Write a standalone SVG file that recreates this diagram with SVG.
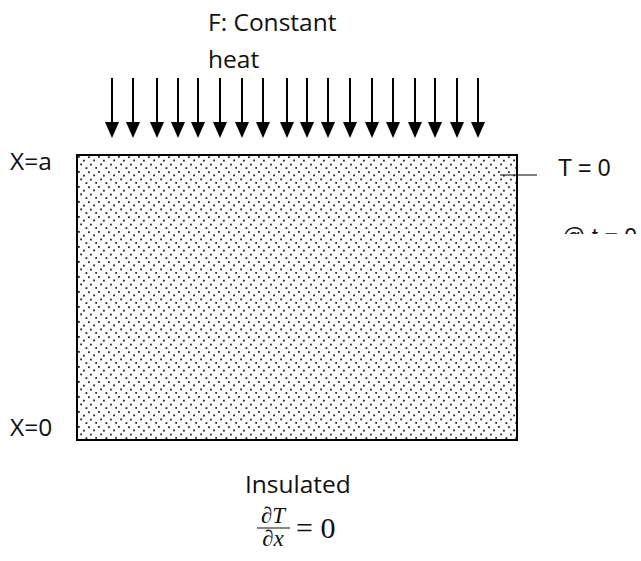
<svg xmlns="http://www.w3.org/2000/svg" width="641" height="561" viewBox="0 0 641 561">
  <style>
    .seg { font-family: "Open Sans", "Noto Sans", "Liberation Sans", sans-serif; font-size: 24.5px; fill: #111; }
    .ari { font-family: "Liberation Sans", Arial, sans-serif; font-size: 23px; fill: #111; }
    .math { font-family: "Liberation Serif", "Times New Roman", serif; fill: #111; }
    .arrow { stroke: #000; stroke-width: 2; fill: none; marker-end: url(#head); }
    .dot { fill: #262626; }
  </style>
  <defs>
    <marker id="head" markerUnits="userSpaceOnUse" viewBox="0 0 16 14" markerWidth="16" markerHeight="14" refX="0" refY="7" orient="auto">
      <path d="M0,0 L16,7 L0,14 z" fill="#000"/>
    </marker>
    <pattern id="dots" patternUnits="userSpaceOnUse" x="77" y="155" width="20" height="15">
      <rect class="dot" x="1" y="1" width="1.8" height="1.8"/>
      <rect class="dot" x="11" y="1.3" width="1.8" height="1.8"/>
      <rect class="dot" x="6" y="4.75" width="1.8" height="1.8"/>
      <rect class="dot" x="16.2" y="4.5" width="1.8" height="1.8"/>
      <rect class="dot" x="3.2" y="8.5" width="1.8" height="1.8"/>
      <rect class="dot" x="13" y="8.7" width="1.8" height="1.8"/>
      <rect class="dot" x="8.5" y="12.2" width="1.8" height="1.8"/>
      <rect class="dot" x="18.3" y="12" width="1.8" height="1.8"/>
    </pattern>
    <clipPath id="clipAt">
      <rect x="0" y="0" width="641" height="234"/>
    </clipPath>
  </defs>
  <rect width="641" height="561" fill="#fff"/>

  <g id="heat-label">
    <text class="seg" x="208" y="31">F: Constant</text>
    <text class="seg" x="208" y="68">heat</text>
  </g>

  <g id="connectors">
    <line class="arrow" x1="112" y1="78" x2="112" y2="122"/>
    <line class="arrow" x1="133" y1="78" x2="133" y2="122"/>
    <line class="arrow" x1="157" y1="78" x2="157" y2="122"/>
    <line class="arrow" x1="178" y1="78" x2="178" y2="122"/>
    <line class="arrow" x1="198" y1="78" x2="198" y2="122"/>
    <line class="arrow" x1="220" y1="78" x2="220" y2="122"/>
    <line class="arrow" x1="242" y1="78" x2="242" y2="122"/>
    <line class="arrow" x1="263" y1="78" x2="263" y2="122"/>
    <line class="arrow" x1="287" y1="78" x2="287" y2="122"/>
    <line class="arrow" x1="307" y1="78" x2="307" y2="122"/>
    <line class="arrow" x1="328" y1="78" x2="328" y2="122"/>
    <line class="arrow" x1="350" y1="78" x2="350" y2="122"/>
    <line class="arrow" x1="372" y1="78" x2="372" y2="122"/>
    <line class="arrow" x1="393" y1="78" x2="393" y2="122"/>
    <line class="arrow" x1="415" y1="78" x2="415" y2="122"/>
    <line class="arrow" x1="435" y1="78" x2="435" y2="122"/>
    <line class="arrow" x1="457" y1="78" x2="457" y2="122"/>
    <line class="arrow" x1="478" y1="78" x2="478" y2="122"/>
    <line x1="500" y1="175" x2="537" y2="175" stroke="#000" stroke-width="1"/>
  </g>

  <g id="slab">
    <rect x="77" y="155" width="440" height="285" fill="url(#dots)" stroke="#000" stroke-width="2"/>
  </g>

  <g id="x-a-label">
    <text class="seg" x="10" y="170">X=a</text>
  </g>
  <g id="x-0-label">
    <text class="seg" x="10" y="436">X=0</text>
  </g>

  <g id="t0-label">
    <text class="ari" x="558" y="176">T = 0</text>
    <text class="ari" x="562" y="245" font-size="26" clip-path="url(#clipAt)">@ t = 0</text>
  </g>

  <g id="insulated-label">
    <text class="seg" x="245" y="493">Insulated</text>
    <g class="math">
      <text x="273" y="523" font-size="23" font-style="italic" text-anchor="middle">∂T</text>
      <line x1="257" y1="528" x2="290" y2="528" stroke="#111" stroke-width="1"/>
      <text x="273" y="546" font-size="23" font-style="italic" text-anchor="middle">∂x</text>
      <text x="296" y="538" font-size="30">= 0</text>
    </g>
  </g>
</svg>
